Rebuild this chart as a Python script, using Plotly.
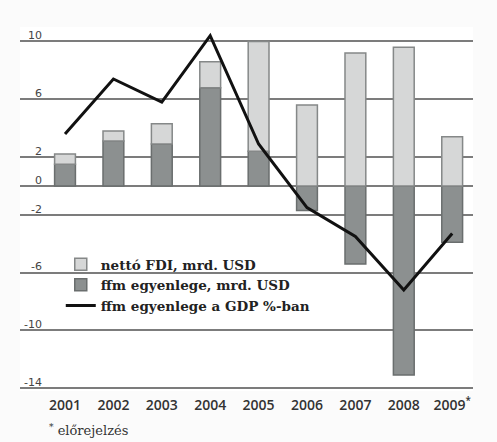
import plotly.graph_objects as go

years = ["2001", "2002", "2003", "2004", "2005", "2006", "2007", "2008", "2009"]
year_labels = ["2001", "2002", "2003", "2004", "2005", "2006", "2007", "2008", "2009<sup>*</sup>"]
ca_usd = [1.5, 3.1, 2.9, 6.8, 2.4, -1.7, -5.4, -13.1, -3.9]      # ffm egyenlege, mrd. USD
fdi_usd = [0.7, 0.7, 1.4, 1.8, 7.6, 5.6, 9.2, 9.6, 3.4]          # nettó FDI, mrd. USD
ca_gdp = [3.6, 7.4, 5.8, 10.4, 2.9, -1.5, -3.5, -7.2, -3.3]       # ffm egyenlege a GDP %-ban
ytick_vals = [10, 6, 2, 0, -2, -6, -10, -14]
ytick_text = ["10", "6", "2", "0", "-2", "-6", "-10", "-14"]

fig = go.Figure()
fig.add_trace(go.Bar(
    x=years, y=ca_usd, name="ffm egyenlege, mrd. USD", legendrank=2,
    marker=dict(color="#8c9090", line=dict(color="#6a6e6e", width=1.5)),
))
fig.add_trace(go.Bar(
    x=years, y=fdi_usd, name="nettó FDI, mrd. USD", legendrank=1,
    marker=dict(color="#d6d7d7", line=dict(color="#858888", width=1.5)),
))
fig.add_trace(go.Scatter(
    x=years, y=ca_gdp, name="ffm egyenlege a GDP %-ban", legendrank=3,
    mode="lines", line=dict(color="#111111", width=3), cliponaxis=False,
))

fig.update_layout(
    width=497, height=442,
    margin=dict(l=20, r=24, t=27, b=51),
    paper_bgcolor="#fbfbfb", plot_bgcolor="#ffffff",
    barmode="relative", bargap=0.57,
    showlegend=True,
    legend=dict(
        x=0.09, y=0.39, xanchor="left", yanchor="top",
        bgcolor="rgba(0,0,0,0)", tracegroupgap=0,
        font=dict(family="DejaVu Serif", size=13.5, color="#222222", weight="bold"),
    ),
    xaxis=dict(
        type="category", categoryorder="array", categoryarray=years,
        tickmode="array", tickvals=years, ticktext=year_labels,
        range=[-0.93, 8.43], showgrid=False, showline=False, ticks="",
        ticklabelstandoff=4,
        tickfont=dict(family="Open Sans", size=14, color="#333333", weight=600),
    ),
    yaxis=dict(
        range=[-14.2, 11.0], tickmode="array", tickvals=ytick_vals, ticktext=ytick_text,
        showgrid=True, gridcolor="#7c7c7c", gridwidth=1.5,
        zeroline=True, zerolinecolor="#7c7c7c", zerolinewidth=1.5,
        showline=False, ticks="", automargin=False,
        ticklabelstandoff=-23, ticklabelshift=-6,
        tickfont=dict(family="DejaVu Sans", size=11, color="#444444"),
    ),
    annotations=[dict(
        xref="paper", yref="paper", x=0.06, y=-0.107, xanchor="left", yanchor="middle",
        text="<sup>*</sup> előrejelzés", showarrow=False,
        font=dict(family="DejaVu Serif", size=13, color="#333333"),
    )],
)

fig.write_html("out.html", config={"displayModeBar": False},
               post_script="document.body.style.margin='0';")
